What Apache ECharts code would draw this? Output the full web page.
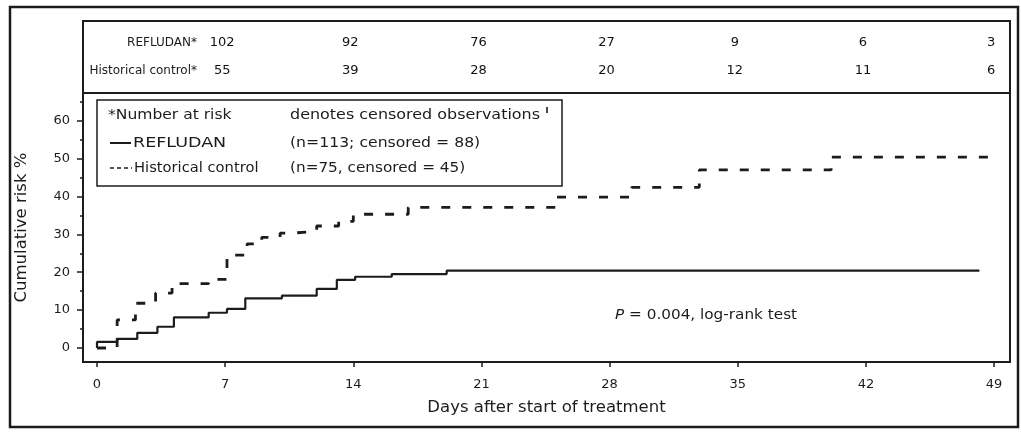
<!DOCTYPE html>
<html>
<head>
<meta charset="utf-8">
<script src="https://cdn.jsdelivr.net/npm/echarts@6/dist/echarts.min.js"></script>
<style>
html,body{margin:0;padding:0;background:#fff;}
#chart{width:1021px;height:432px;}
</style>
</head>
<body>
<div id="chart"></div>
<script>
// ---- data ----
const dayTicks = [0, 7, 14, 21, 28, 35, 42, 49];
const riskTicks = [0, 10, 20, 30, 40, 50, 60];
const riskMinorTicks = [5, 15, 25, 35, 45, 55, 65];

const refludanDays = [0, 0, 1.1, 2.2, 3.3, 4.2, 6.1, 7.1, 8.1, 10.1, 12.0, 13.1, 14.1, 16.1, 19.1, 48.2];
const refludanRisk = [0, 1.6, 2.4, 4.0, 5.6, 8.1, 9.3, 10.3, 13.1, 13.8, 15.6, 18.0, 18.8, 19.5, 20.4, 20.4];

const controlDays = [0, 1.1, 2.1, 3.2, 4.1, 6.1, 7.1, 8.2, 9.0, 10.0, 10.6, 12.0, 13.2, 14.0, 17.0, 25.1, 29.2, 32.9, 40.1, 48.9];
const controlRisk = [0, 7.4, 11.8, 14.5, 17.0, 18.1, 24.5, 27.5, 29.2, 30.3, 30.8, 32.2, 33.4, 35.3, 37.1, 39.8, 42.4, 47.0, 50.4, 50.4];

const atRiskRows = ['Historical control*', 'REFLUDAN*'];
const atRiskDays = [7, 14, 21, 28, 35, 42, 49];
const refludanAtRisk = [102, 92, 76, 27, 9, 6, 3];
const controlAtRisk = [55, 39, 28, 20, 12, 11, 6];

// ---- chart ----
const INK = '#1c1c1c';
const FONT = 'DejaVu Sans';
const X_MIN = -0.765, X_MAX = 49.87;
const Y_MIN = -3.7, Y_MAX = 67.3;

const zip = (a, b) => a.map((v, i) => [v, b[i]]);

function txt(text, x, y, sx, size, extra) {
  return Object.assign({
    type: 'text', x: x, y: y, scaleX: sx, z: 11,
    style: {text: text, font: (size || 14) + 'px "DejaVu Sans"', fill: INK, textVerticalAlign: 'middle'}
  }, extra || {});
}

const atRiskLabel = {
  show: true, position: 'inside', offset: [-3, 0], fontSize: 13, color: '#111', fontFamily: FONT,
  opacity: 1, textBorderWidth: 0, formatter: p => String(p.value[2])
};

const chart = echarts.init(document.getElementById('chart'), null, {renderer: 'canvas'});
chart.setOption({
  animation: false,
  backgroundColor: '#ffffff',
  textStyle: {fontFamily: FONT, color: INK},
  grid: [
    {left: 83, top: 93, width: 927, height: 269, show: true, borderColor: INK, borderWidth: 2, backgroundColor: 'transparent'},
    {left: 83, top: 29, width: 927, height: 56}
  ],
  xAxis: [
    {
      type: 'value', gridIndex: 0, min: X_MIN, max: X_MAX,
      name: 'Days after start of treatment', nameLocation: 'middle', nameGap: 37,
      nameTextStyle: {fontSize: 16.5, color: INK, fontFamily: FONT},
      axisLine: {show: true, onZero: false, lineStyle: {color: INK, width: 2}},
      axisTick: {show: true, customValues: dayTicks, length: 5, lineStyle: {color: INK, width: 1.5}},
      axisLabel: {show: true, customValues: dayTicks, margin: 16, fontSize: 13, color: INK, fontFamily: FONT},
      splitLine: {show: false}
    },
    {type: 'value', gridIndex: 1, min: X_MIN, max: X_MAX, show: false}
  ],
  yAxis: [
    {
      type: 'value', gridIndex: 0, min: Y_MIN, max: Y_MAX,
      name: 'Cumulative risk %', nameLocation: 'middle', nameGap: 53,
      nameTextStyle: {fontSize: 16.5, color: INK, fontFamily: FONT},
      axisLine: {show: true, onZero: false, lineStyle: {color: INK, width: 2}},
      axisTick: {show: true, customValues: riskTicks, length: 6, lineStyle: {color: INK, width: 1.5}},
      axisLabel: {show: true, customValues: riskTicks, margin: 13, fontSize: 13, color: INK, fontFamily: FONT},
      splitLine: {show: false}
    },
    {
      type: 'value', gridIndex: 0, min: Y_MIN, max: Y_MAX, position: 'left',
      axisLine: {show: false, onZero: false},
      axisTick: {show: true, customValues: riskMinorTicks, length: 3, lineStyle: {color: INK, width: 1.5}},
      axisLabel: {show: false},
      splitLine: {show: false}
    },
    {
      type: 'category', gridIndex: 1, data: atRiskRows, position: 'left', offset: -117,
      axisLine: {show: false}, axisTick: {show: false},
      axisLabel: {show: true, margin: 3, fontSize: 12, color: INK, fontFamily: FONT},
      splitLine: {show: false}
    }
  ],
  series: [
    {
      name: 'REFLUDAN', type: 'line', xAxisIndex: 0, yAxisIndex: 0,
      step: 'end', showSymbol: false, symbol: 'none',
      lineStyle: {color: INK, width: 2.2},
      data: zip(refludanDays, refludanRisk)
    },
    {
      name: 'Historical control', type: 'line', xAxisIndex: 0, yAxisIndex: 0,
      step: 'end', showSymbol: false, symbol: 'none',
      lineStyle: {color: INK, width: 2.8, type: [9, 12]},
      data: zip(controlDays, controlRisk)
    },
    {
      name: 'REFLUDAN at risk', type: 'scatter', xAxisIndex: 1, yAxisIndex: 2,
      symbolSize: 0.1, itemStyle: {color: '#ffffff', opacity: 1},
      encode: {x: 0, y: 1},
      label: atRiskLabel,
      data: atRiskDays.map((d, i) => [d, atRiskRows[1], refludanAtRisk[i]])
    },
    {
      name: 'Control at risk', type: 'scatter', xAxisIndex: 1, yAxisIndex: 2,
      symbolSize: 0.1, itemStyle: {color: '#ffffff', opacity: 1},
      encode: {x: 0, y: 1},
      label: atRiskLabel,
      data: atRiskDays.map((d, i) => [d, atRiskRows[0], controlAtRisk[i]])
    }
  ],
  graphic: [
    // outer frame
    {type: 'rect', shape: {x: 10, y: 7, width: 1008, height: 420}, style: {fill: 'none', stroke: INK, lineWidth: 2.5}, z: 10},
    // number-at-risk box
    {type: 'rect', shape: {x: 83, y: 21, width: 927, height: 72}, style: {fill: 'none', stroke: INK, lineWidth: 2}, z: 10},
    // legend box
    {type: 'rect', shape: {x: 97, y: 100, width: 465, height: 86}, style: {fill: '#fff', stroke: INK, lineWidth: 1.5}, z: 10},
    txt('*Number at risk', 108, 115, 1.11),
    txt('denotes censored observations', 290, 115, 1.14),
    {type: 'line', shape: {x1: 547, y1: 107, x2: 547, y2: 113}, style: {stroke: INK, lineWidth: 1.6}, z: 11},
    {type: 'line', shape: {x1: 110, y1: 143, x2: 131, y2: 143}, style: {stroke: INK, lineWidth: 2}, z: 11},
    txt('REFLUDAN', 133, 143, 1.25),
    txt('(n=113; censored = 88)', 290, 143, 1.12),
    {type: 'line', shape: {x1: 110, y1: 168, x2: 132, y2: 168}, style: {stroke: INK, lineWidth: 1.5, lineDash: [4, 3]}, z: 11},
    txt('Historical control', 134, 168, 1.05),
    txt('(n=75, censored = 45)', 290, 168, 1.09),
    // p-value note
    {type: 'text', x: 615, y: 315, scaleX: 1.13, z: 11, style: {
      text: '{i|P} = 0.004, log-rank test',
      rich: {i: {fontStyle: 'italic', fontSize: 13.5, fontFamily: FONT, fill: INK}},
      font: '13.5px "DejaVu Sans"', fill: INK, textVerticalAlign: 'middle'}}
  ]
});
</script>
</body>
</html>
